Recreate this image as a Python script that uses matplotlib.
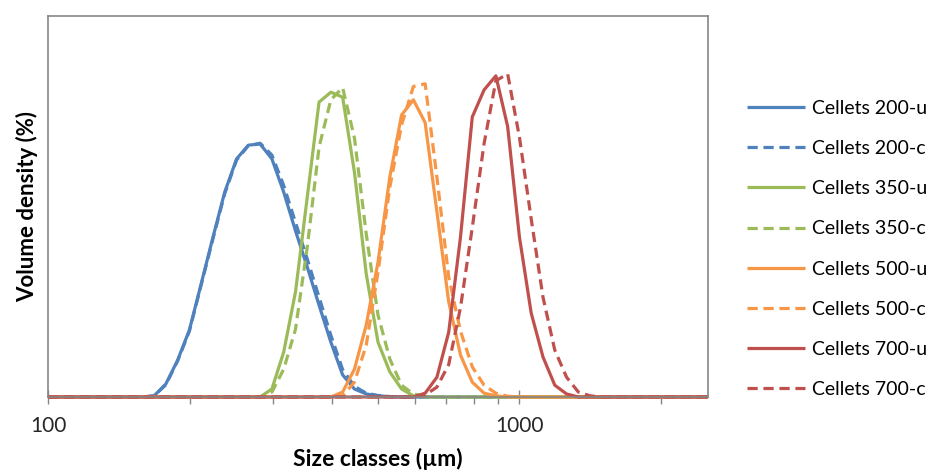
import matplotlib
matplotlib.use("Agg")
import matplotlib.pyplot as plt

# size classes (µm), 40 per decade
sizes = [100.0, 105.9, 112.2, 118.9, 125.9, 133.4, 141.3, 149.6, 158.5, 167.9,
         177.8, 188.4, 199.5, 211.3, 223.9, 237.1, 251.2, 266.1, 281.8, 298.5,
         316.2, 335.0, 354.8, 375.8, 398.1, 421.7, 446.7, 473.2, 501.2, 530.9,
         562.3, 595.7, 631.0, 668.3, 707.9, 749.9, 794.3, 841.4, 891.3, 944.1,
         1000.0, 1059.3, 1122.0, 1188.5, 1258.9, 1333.5, 1412.5, 1496.2, 1584.9, 1678.8,
         1778.3, 1883.6, 1995.3, 2113.5, 2238.7, 2371.4, 2511.9]

# volume density (%)
c200_u = [0, 0, 0, 0, 0, 0, 0, 0, 0, 0.03,
          0.34, 0.97, 1.76, 2.97, 4.20, 5.38, 6.25, 6.61, 6.64, 6.25,
          5.38, 4.36, 3.41, 2.41, 1.44, 0.58, 0.21, 0.08, 0.03, 0.01,
          0, 0, 0, 0, 0, 0, 0, 0, 0, 0,
          0, 0, 0, 0, 0, 0, 0, 0, 0, 0,
          0, 0, 0, 0, 0, 0, 0]
c200_c = [0, 0, 0, 0, 0, 0, 0, 0, 0, 0.03,
          0.32, 0.95, 1.73, 2.94, 4.16, 5.34, 6.22, 6.60, 6.66, 6.35,
          5.55, 4.58, 3.62, 2.62, 1.62, 0.72, 0.28, 0.10, 0.04, 0.01,
          0, 0, 0, 0, 0, 0, 0, 0, 0, 0,
          0, 0, 0, 0, 0, 0, 0, 0, 0, 0,
          0, 0, 0, 0, 0, 0, 0]
c350_u = [0, 0, 0, 0, 0, 0, 0, 0, 0, 0,
          0, 0, 0, 0, 0, 0, 0, 0, 0, 0.21,
          1.18, 2.76, 5.25, 7.74, 8.00, 7.87, 5.90, 3.23, 1.44, 0.66,
          0.21, 0.03, 0, 0, 0, 0, 0, 0, 0, 0,
          0, 0, 0, 0, 0, 0, 0, 0, 0, 0,
          0, 0, 0, 0, 0, 0, 0]
c350_c = [0, 0, 0, 0, 0, 0, 0, 0, 0, 0,
          0, 0, 0, 0, 0, 0, 0, 0, 0, 0.13,
          0.73, 1.78, 3.94, 6.56, 7.80, 8.12, 6.80, 4.28, 2.15, 1.00,
          0.31, 0.08, 0.02, 0, 0, 0, 0, 0, 0, 0,
          0, 0, 0, 0, 0, 0, 0, 0, 0, 0,
          0, 0, 0, 0, 0, 0, 0]
c500_u = [0, 0, 0, 0, 0, 0, 0, 0, 0, 0,
          0, 0, 0, 0, 0, 0, 0, 0, 0, 0,
          0, 0, 0, 0, 0, 0.13, 0.73, 1.89, 3.54, 5.77,
          7.40, 7.80, 7.20, 4.86, 2.50, 1.10, 0.39, 0.10, 0.03, 0,
          0, 0, 0, 0, 0, 0, 0, 0, 0, 0,
          0, 0, 0, 0, 0, 0, 0]
c500_c = [0, 0, 0, 0, 0, 0, 0, 0, 0, 0,
          0, 0, 0, 0, 0, 0, 0, 0, 0, 0,
          0, 0, 0, 0, 0, 0.03, 0.39, 1.36, 3.28, 5.50,
          7.14, 8.15, 8.22, 5.77, 3.15, 1.73, 0.79, 0.31, 0.10, 0.02,
          0, 0, 0, 0, 0, 0, 0, 0, 0, 0,
          0, 0, 0, 0, 0, 0, 0]
c700_u = [0, 0, 0, 0, 0, 0, 0, 0, 0, 0,
          0, 0, 0, 0, 0, 0, 0, 0, 0, 0,
          0, 0, 0, 0, 0, 0, 0, 0, 0, 0,
          0, 0, 0.10, 0.52, 1.70, 4.20, 7.35, 8.06, 8.43, 7.10,
          4.20, 2.20, 1.05, 0.31, 0.08, 0, 0, 0, 0, 0,
          0, 0, 0, 0, 0, 0, 0]
c700_c = [0, 0, 0, 0, 0, 0, 0, 0, 0, 0,
          0, 0, 0, 0, 0, 0, 0, 0, 0, 0,
          0, 0, 0, 0, 0, 0, 0, 0, 0, 0,
          0, 0, 0.05, 0.26, 0.85, 2.35, 4.45, 6.65, 8.30, 8.48,
          6.82, 4.67, 2.62, 1.23, 0.52, 0.13, 0.03, 0, 0, 0,
          0, 0, 0, 0, 0, 0, 0]

series = [c200_u, c200_c, c350_u, c350_c, c500_u, c500_c, c700_u, c700_c]
labels = ["Cellets 200-u", "Cellets 200-c", "Cellets 350-u", "Cellets 350-c",
          "Cellets 500-u", "Cellets 500-c", "Cellets 700-u", "Cellets 700-c"]
colors = ["#4F81BD", "#4F81BD", "#9BBB59", "#9BBB59",
          "#F79646", "#F79646", "#C0504D", "#C0504D"]

plt.rcParams['font.family'] = ['Lato', 'DejaVu Sans']

fig = plt.figure(figsize=(9.31, 4.73), dpi=100)
ax = fig.add_axes([48 / 931, 76 / 473, 660 / 931, 381 / 473])

for i, (vals, lab, col) in enumerate(zip(series, labels, colors)):
    ls = '-' if i % 2 == 0 else (0, (3.2, 1.8))
    ax.plot(sizes, vals, color=col, lw=2.3, ls=ls, label=lab,
            solid_capstyle='butt', dash_capstyle='butt', clip_on=False)

ax.set_xscale('log')
ax.set_xlim(100, 2511.9)
ax.set_ylim(0, 10)
ax.set_yticks([])
ax.set_xticks([100, 1000])
ax.set_xticklabels(["100", "1000"])
ax.xaxis.set_minor_locator(matplotlib.ticker.LogLocator(base=10, subs=range(2, 10)))
ax.xaxis.set_minor_formatter(matplotlib.ticker.NullFormatter())
ax.tick_params(axis='x', which='major', direction='inout', length=10, width=1,
               color='#868686', labelsize=15, labelcolor='#262626', pad=9)
ax.tick_params(axis='x', which='minor', direction='out', length=5, width=1, color='#868686')

for sp in ax.spines.values():
    sp.set_color('#868686')
    sp.set_linewidth(1.2)

ax.set_xlabel("Size classes (µm)", fontsize=16.5, fontweight='bold', labelpad=8)
ax.set_ylabel("Volume density (%)", fontsize=16, fontweight='bold', labelpad=7)

ax.legend(loc='upper left', bbox_to_anchor=(747 / 931, 1 - 100 / 473),
          bbox_transform=fig.transFigure, frameon=False, fontsize=14,
          handlelength=3.0, handletextpad=0.36, labelspacing=1.19, borderpad=0,
          borderaxespad=0)

fig.savefig("out.png", dpi=100)
